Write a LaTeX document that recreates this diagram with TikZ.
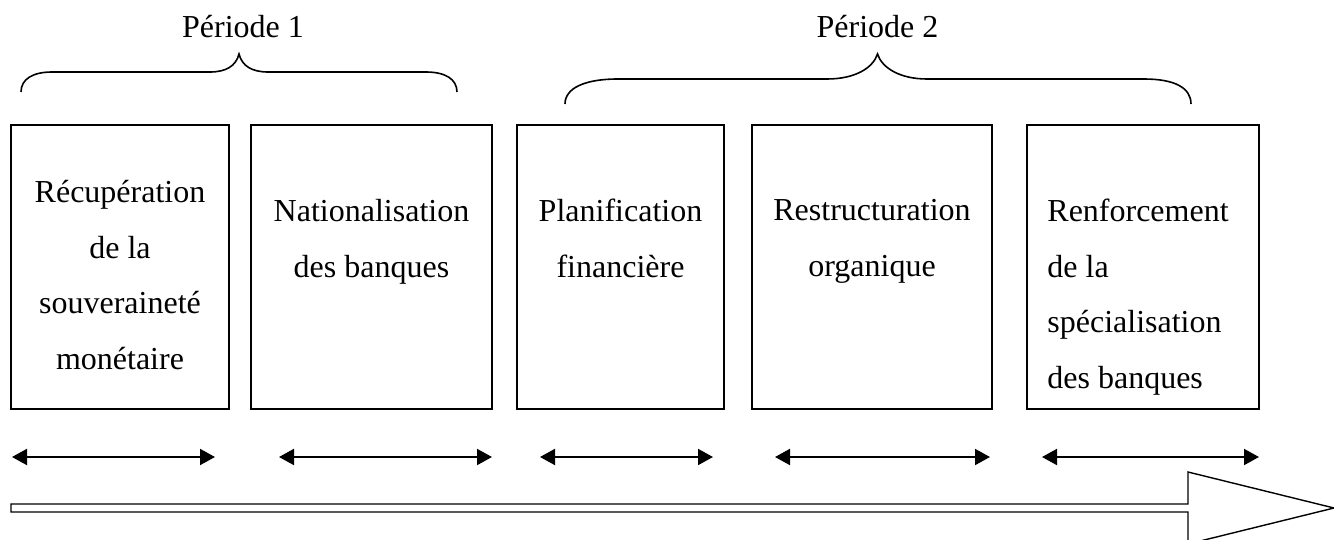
\documentclass[tikz,border=0pt]{standalone}
\usepackage{fontspec}
\setmainfont{Liberation Serif}
\usepackage{tikz}
\usetikzlibrary{arrows.meta,positioning}
\tikzstyle{boite}=[draw,line width=1pt,minimum height=142pt,inner sep=0pt]
\tikzstyle{texte}=[font=\fontsize{16pt}{27.75pt}\selectfont,align=center,inner sep=0pt]
\tikzstyle{periode}=[font=\fontsize{16pt}{19pt}\selectfont,inner sep=0pt,anchor=base]
\tikzstyle{fleche}=[draw,line width=1pt,{Triangle[length=7.5pt,width=8pt]}-{Triangle[length=7.5pt,width=8pt]}]
\tikzstyle{accolade}=[draw,line width=0.8pt]

\begin{document}
\begin{tikzpicture}[x=0.5pt,y=-0.5pt]
    \useasboundingbox (0,0) rectangle (1334,540);
    \foreach \name/\cx/\w in {b1/120/109pt, b2/371.5/120.5pt, b3/620.5/103.5pt, b4/872/120pt, b5/1143/116pt}
        \node[boite,minimum width=\w] (\name) at (\cx,267) {};
    \node[texte,below=28pt of b1.north] (t1) {Récupération\\de la\\souveraineté\\monétaire};
    \node[texte,below=37.5pt of b2.north] (t2) {Nationalisation\\des banques};
    \node[texte,below=37.5pt of b3.north] (t3) {Planification\\financière};
    \node[texte,below=37.5pt of b4.north] (t4) {Restructuration\\organique};
    \node[texte,align=left,below right=37.5pt and 10.5pt of b5.north west] (t5) {Renforcement\\de la\\spécialisation\\des banques};
    \node[periode] (p1) at (243,38) {Période 1};
    \node[periode] (p2) at (877.5,38) {Période 2};
    \path[accolade] (21,92) .. controls (21,79) and (33,72) .. (52,72) -- (210,72)
        .. controls (226,72) and (236,66) .. (239,54) .. controls (242,66) and (252,72) .. (268,72)
        -- (426,72) .. controls (445,72) and (457,79) .. (457,92);
    \path[accolade] (565,104) .. controls (565,88) and (585,79) .. (618,79) -- (827,79)
        .. controls (855,79) and (873,68) .. (877.5,54) .. controls (882,68) and (900,79) .. (927,79)
        -- (1144,79) .. controls (1175,79) and (1191,88) .. (1191,104);
    \foreach \i/\xa/\xb in {1/12/215, 2/279/492, 3/540/713, 4/775/990, 5/1042/1259} {
        \coordinate (g\i) at (\xa,457);
        \coordinate (d\i) at (\xb,457);
        \path[fleche] (g\i) -- (d\i);
    }
    \draw[line width=0.7pt] (11,504) -- (1188,504) -- (1188,472) -- (1334,508) -- (1188,544) -- (1188,512) -- (11,512) -- cycle;
\end{tikzpicture}
\end{document}
